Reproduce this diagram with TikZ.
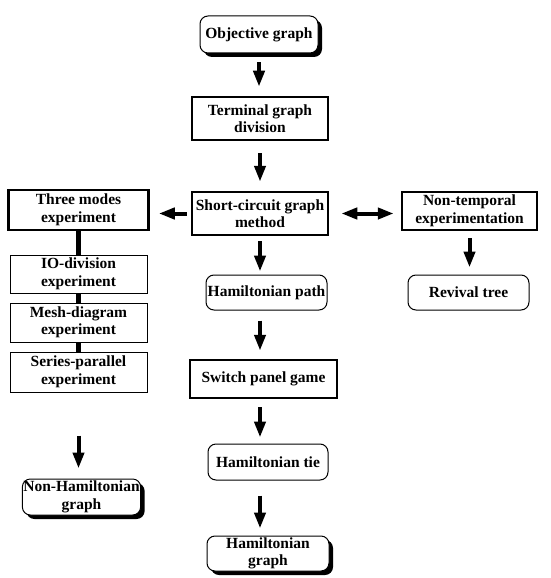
\documentclass[tikz,border=0pt]{standalone}
\usepackage{fontspec}
\setmainfont{Liberation Serif}
\usetikzlibrary{arrows.meta,shadows}

\tikzset{
  box/.style={draw, fill=white, line width=2.5pt, align=center, inner sep=1pt,
    font=\fontsize{15.5}{17.5}\selectfont\bfseries},
  thinbox/.style={box, line width=1pt},
  roundbox/.style={box, line width=1pt, rounded corners=8pt},
  shadowbox/.style={roundbox, drop shadow={shadow xshift=4pt, shadow yshift=-4pt, fill=black, opacity=1}},
  flow/.style={line width=4pt, -{Triangle[width=11pt,length=16pt]}},
  twoway/.style={line width=4pt, {Triangle[width=11pt,length=16pt]}-{Triangle[width=11pt,length=16pt]}},
  link/.style={line width=5pt, xshift=2.5pt}
}

\begin{document}
\begin{tikzpicture}[x=1pt,y=-1pt]
    \useasboundingbox (0,0) rectangle (551,578);

    % Main column
    \node[shadowbox, minimum width=118pt, minimum height=37pt] (obj) at (259,34.5) {Objective graph};
    \node[box, minimum width=136pt, minimum height=43pt] (term) at (260,118.5) {Terminal graph\\division};
    \node[box, minimum width=136pt, minimum height=43pt] (short) at (260,213.5) {Short-circuit graph\\method};
    \node[roundbox, minimum width=121pt, minimum height=35pt] (hpath) at (266.5,292.5) {Hamiltonian path};
    \node[box, minimum width=147pt, minimum height=38pt] (switch) at (263.5,379) {Switch panel game};
    \node[roundbox, minimum width=120pt, minimum height=36pt] (htie) at (268,462) {Hamiltonian tie};
    \node[shadowbox, minimum width=122pt, minimum height=35pt] (hgraph) at (268,553.5) {Hamiltonian\\graph};

    % Left column
    \node[box, minimum width=140pt, minimum height=40pt] (three) at (78.5,210) {Three modes\\experiment};
    \node[thinbox, minimum width=137pt, minimum height=38pt] (io) at (78.5,274) {IO-division\\experiment};
    \node[thinbox, minimum width=137pt, minimum height=39pt] (mesh) at (78.5,322.5) {Mesh-diagram\\experiment};
    \node[thinbox, minimum width=137pt, minimum height=40pt] (series) at (78.5,372) {Series-parallel\\experiment};
    \node[shadowbox, minimum width=117pt, minimum height=36pt] (nonham) at (81.5,497) {Non-Hamiltonian\\graph};

    % Right column
    \node[box, minimum width=135pt, minimum height=38pt] (nontemp) at (469.5,211) {Non-temporal\\experimentation};
    \node[roundbox, minimum width=121pt, minimum height=35pt] (revival) at (468.5,292.5) {Revival tree};

    % Arrows down the middle
    \draw[flow, shorten <=9pt, shorten >=9pt] (obj.south) -- (obj.south |- term.north);
    \draw[flow, shorten <=12pt, shorten >=9pt] (term.south) -- (term.south |- short.north);
    \draw[flow, shorten <=5pt, shorten >=3pt] (short.south) -- (short.south |- hpath.north);
    \draw[flow, shorten <=10pt, shorten >=8pt] (short.south |- hpath.south) -- (short.south |- switch.north);
    \draw[flow, shorten <=8pt, shorten >=6pt] (short.south |- switch.south) -- (short.south |- htie.north);
    \draw[flow, shorten <=15pt, shorten >=7pt] (short.south |- htie.south) -- (short.south |- hgraph.north);

    % Sides
    \draw[flow, shorten <=4pt, shorten >=9pt] (short.west) -- (short.west -| three.east);
    \draw[twoway, shorten <=12pt, shorten >=7pt] (short.east) -- (short.east -| nontemp.west);
    \draw[flow, shorten <=7pt, shorten >=7pt] (nontemp.south) -- (nontemp.south |- revival.north);
    \draw[link] (three.south) -- (io.north);
    \draw[link] (io.south) -- (mesh.north);
    \draw[link] (mesh.south) -- (series.north);
    \draw[flow, shorten <=43pt, shorten >=10pt] (series.south) -- (series.south |- nonham.north);
\end{tikzpicture}
\end{document}
